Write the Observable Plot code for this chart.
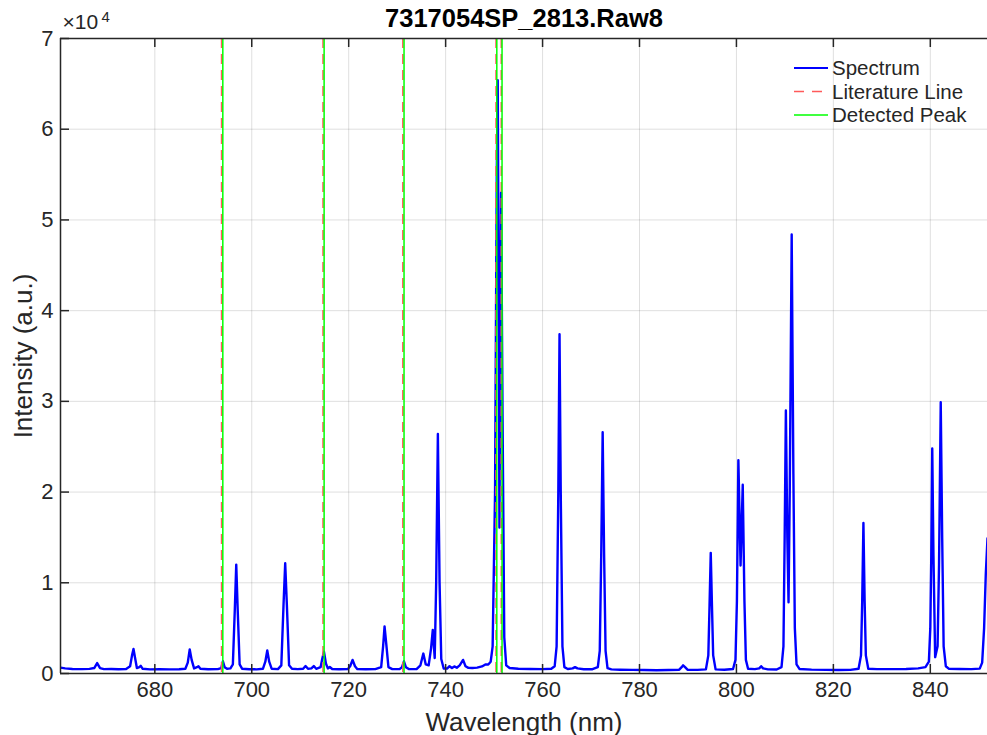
<!DOCTYPE html>
<html>
<head>
<meta charset="utf-8">
<script src="https://cdn.jsdelivr.net/npm/d3@7"></script>
<script src="https://cdn.jsdelivr.net/npm/@observablehq/plot@0.6"></script>
<style>
  body { margin: 0; background: #fff; }
  #chart svg { display: block; }
</style>
</head>
<body>
<div id="chart"></div>
<script>
// ---------- data ----------
const wavelength = [
  660.54, 661.5, 663.0, 665.0, 666.5, 667.5, 668.1, 668.7, 669.5, 671.0, 672.5, 674.0,
  674.9, 675.3, 675.6, 675.9, 676.3, 676.8, 677.1, 677.5, 679.0, 681.0, 683.0, 685.0,
  686.3, 686.8, 687.2, 687.6, 688.1, 688.7, 689.0, 689.4, 691.0, 693.0, 693.7, 694.05,
  694.4, 694.9, 695.6, 696.1, 696.5, 696.8, 697.1, 697.5, 698.0, 699.5, 701.0, 702.3,
  702.8, 703.2, 703.6, 704.1, 705.4, 706.1, 706.55, 706.9, 707.25, 707.7, 708.3, 709.5,
  710.6, 711.1, 711.6, 712.3, 712.8, 713.3, 714.2, 714.5, 714.9, 715.3, 715.7, 716.1,
  716.6, 718.0, 719.8, 720.3, 720.8, 721.3, 721.8, 723.5, 725.5, 726.7, 727.1, 727.4,
  727.8, 728.2, 729.0, 730.5, 731.0, 731.4, 731.8, 732.4, 734.0, 734.8, 735.4, 735.9,
  736.5, 737.0, 737.35, 737.75, 738.05, 738.4, 738.75, 739.1, 739.6, 740.3, 740.8, 741.3,
  741.8, 742.3, 742.9, 743.6, 744.1, 744.7, 745.5, 746.5, 747.5, 748.2, 748.8, 749.3,
  749.7, 750.2, 750.55, 750.75, 750.92, 751.1, 751.3, 751.45, 751.75, 752.1, 752.5, 753.2,
  755.0, 757.5, 760.0, 761.8, 762.5, 762.9, 763.25, 763.5, 763.75, 764.1, 764.5, 765.2,
  766.2, 766.7, 767.2, 768.5, 770.3, 771.4, 771.8, 772.1, 772.4, 772.7, 773.0, 773.4,
  774.2, 776.0, 778.5, 781.0, 783.5, 786.0, 788.2, 788.7, 789.0, 789.4, 789.9, 792.0,
  793.7, 794.2, 794.45, 794.7, 794.95, 795.2, 795.7, 797.5, 799.3, 799.8, 800.1, 800.4,
  800.85, 801.3, 801.65, 801.95, 802.4, 803.8, 804.7, 805.1, 805.5, 806.5, 808.3, 809.3,
  809.7, 809.95, 810.2, 810.5, 810.75, 811.0, 811.4, 811.75, 812.05, 812.4, 813.0, 815.5,
  818.5, 821.0, 823.5, 825.2, 825.7, 825.95, 826.2, 826.45, 826.7, 827.2, 829.0, 832.0,
  835.0, 837.5, 839.0, 839.7, 840.0, 840.2, 840.4, 840.65, 841.0, 841.5, 841.8, 842.15,
  842.45, 842.75, 843.2, 843.8, 846.0, 848.5, 850.2, 850.7, 851.1, 851.45, 851.8
];
const intensity = [
  650, 560, 500, 480, 510, 600, 1150, 600, 480, 500, 470, 480,
  800, 2000, 2700, 1800, 600, 700, 850, 520, 460, 470, 450, 470,
  520, 1200, 2650, 1500, 560, 700, 800, 520, 470, 480, 600, 1350,
  700, 520, 560, 1000, 7000, 12000, 7000, 1000, 530, 470, 460, 520,
  1300, 2550, 1300, 530, 480, 900, 7500, 12150, 7500, 900, 520, 480,
  520, 820, 520, 560, 820, 520, 700, 1500, 2400, 1100, 560, 720,
  500, 470, 480, 800, 1500, 800, 480, 470, 480, 700, 3000, 5200,
  3000, 700, 480, 480, 700, 1350, 700, 490, 480, 900, 2200, 1000,
  900, 2800, 4800, 1700, 10000, 26400, 10000, 1600, 550, 550, 800, 600,
  780, 640, 900, 1500, 800, 620, 600, 650, 780, 1000, 1000, 1300,
  3000, 20000, 55000, 65400, 45000, 16100, 38000, 53000, 28000, 4000, 900, 600,
  520, 500, 480, 520, 800, 3000, 20000, 37400, 20000, 3000, 700, 500,
  560, 700, 560, 470, 470, 700, 2500, 13000, 26600, 13000, 2500, 600,
  450, 420, 400, 380, 360, 380, 420, 700, 900, 700, 420, 400,
  450, 2000, 7500, 13300, 7500, 2000, 450, 420, 500, 1500, 8000, 23500,
  11900, 20800, 8000, 1500, 520, 480, 560, 800, 560, 460, 440, 700,
  3000, 15000, 29000, 15000, 7860, 20000, 48400, 22000, 5000, 1000, 500, 430,
  400, 380, 400, 520, 2000, 8000, 16600, 8000, 2000, 520, 480, 480,
  500, 560, 700, 1300, 5000, 13000, 24800, 13000, 1800, 3000, 12000, 29900,
  15000, 3000, 800, 530, 500, 480, 540, 1200, 5000, 11000, 14900
];
const literatureLines = [693.77, 714.70, 731.17, 750.39, 751.47];
const detectedPeaks   = [694.03, 714.93, 731.42, 750.56, 751.64];
const xDomain = [660.54, 851.8];
const yDomain = [0, 70000];
const xTicks = [680, 700, 720, 740, 760, 780, 800, 820, 840];
const yTicks = [0, 10000, 20000, 30000, 40000, 50000, 60000, 70000];
const yTickLabels = ["0", "1", "2", "3", "4", "5", "6", "7"];
const chartTitle = "7317054SP_2813.Raw8";
const xLabel = "Wavelength (nm)";
const yLabel = "Intensity (a.u.)";
const exponentBase = "×10";
const exponentPower = "4";
const legendLabels = ["Spectrum", "Literature Line", "Detected Peak"];

// ---------- layout & style ----------
const W = 987, H = 735;
const mt = 38, mb = 62, ml = 60, mr = 0;
const innerH = H - mt - mb, innerW = W - ml - mr;
const axisColor = "#262626";
const blue = "#0000ff", red = "#ff5a5a", green = "#00ff00";
const font = "'Liberation Sans', Arial, Helvetica, sans-serif";
const tickLen = 9;

const spectrum = wavelength.map((w, i) => ({w, v: intensity[i]}));

const chart = Plot.plot({
  width: W, height: H,
  marginTop: mt, marginBottom: mb, marginLeft: ml, marginRight: mr,
  style: {fontFamily: font, fontSize: "22px", color: axisColor, background: "#fff", overflow: "visible"},
  x: {domain: xDomain},
  y: {domain: yDomain},
  marks: [
    Plot.gridX(xTicks, {stroke: axisColor, strokeOpacity: 0.15, strokeWidth: 1}),
    Plot.gridY(yTicks, {stroke: axisColor, strokeOpacity: 0.15, strokeWidth: 1}),
    Plot.line(spectrum, {x: "w", y: "v", stroke: blue, strokeWidth: 2.4, clip: true}),
    Plot.ruleX(literatureLines, {stroke: red, strokeWidth: 1.5, strokeDasharray: "10,6"}),
    Plot.ruleX(detectedPeaks, {stroke: green, strokeWidth: 1.5}),
    // inward tick marks (bottom, top, left)
    Plot.ruleX(xTicks, {stroke: axisColor, strokeWidth: 1.5, insetTop: innerH - tickLen}),
    Plot.ruleX(xTicks, {stroke: axisColor, strokeWidth: 1.5, insetBottom: innerH - tickLen}),
    Plot.ruleY(yTicks, {stroke: axisColor, strokeWidth: 1.5, insetRight: innerW - tickLen}),
    // axis lines
    Plot.ruleY([yDomain[0]], {stroke: axisColor, strokeWidth: 1.5}),
    Plot.ruleY([yDomain[1]], {stroke: axisColor, strokeWidth: 1.5}),
    Plot.ruleX([xDomain[0]], {stroke: axisColor, strokeWidth: 1.5}),
    // tick labels
    Plot.axisX(xTicks, {tickSize: 0, tickPadding: 8, fontSize: 22, label: null}),
    Plot.axisY(yTicks, {tickSize: 0, tickPadding: 7, fontSize: 22, label: null,
                        tickFormat: (d) => yTickLabels[yTicks.indexOf(d)]}),
    // labels
    Plot.text([xLabel], {frameAnchor: "bottom", dy: 49, lineAnchor: "middle", textAnchor: "middle", fontSize: 26, fill: axisColor}),
    Plot.text([yLabel], {frameAnchor: "left", dx: -37, lineAnchor: "middle", textAnchor: "middle", rotate: -90, fontSize: 26, fill: axisColor}),
    Plot.text([chartTitle], {frameAnchor: "top", dy: -20, lineAnchor: "middle", textAnchor: "middle", fontSize: 25.5, fontWeight: "bold", fill: "#000"}),
    Plot.text([exponentBase], {frameAnchor: "top-left", dx: 2, dy: -16, lineAnchor: "middle", textAnchor: "start", fontSize: 21, fill: axisColor}),
    Plot.text([exponentPower], {frameAnchor: "top-left", dx: 41, dy: -21, lineAnchor: "middle", textAnchor: "start", fontSize: 15, fill: axisColor})
  ]
});

// ---------- legend ----------
const svg = d3.select(chart);
const legendStyles = [
  {stroke: blue, dash: null, width: 2},
  {stroke: red, dash: "10,8", width: 1.5},
  {stroke: green, dash: null, width: 1.5}
];
const lg = svg.append("g").attr("font-family", font).attr("font-size", 20.5)
  .attr("fill", axisColor).attr("text-anchor", "start");
const lx0 = 794, lx1 = 828, ly0 = 68, lstep = 23.5;
legendLabels.forEach((lab, i) => {
  const y = ly0 + i * lstep;
  lg.append("line").attr("x1", lx0).attr("x2", lx1).attr("y1", y).attr("y2", y)
    .attr("stroke", legendStyles[i].stroke).attr("stroke-width", legendStyles[i].width)
    .attr("stroke-dasharray", legendStyles[i].dash);
  lg.append("text").attr("x", lx1 + 4).attr("y", y).attr("dy", "0.35em")
    .attr("text-anchor", "start").text(lab);
});

document.getElementById("chart").appendChild(chart);
</script>
</body>
</html>
